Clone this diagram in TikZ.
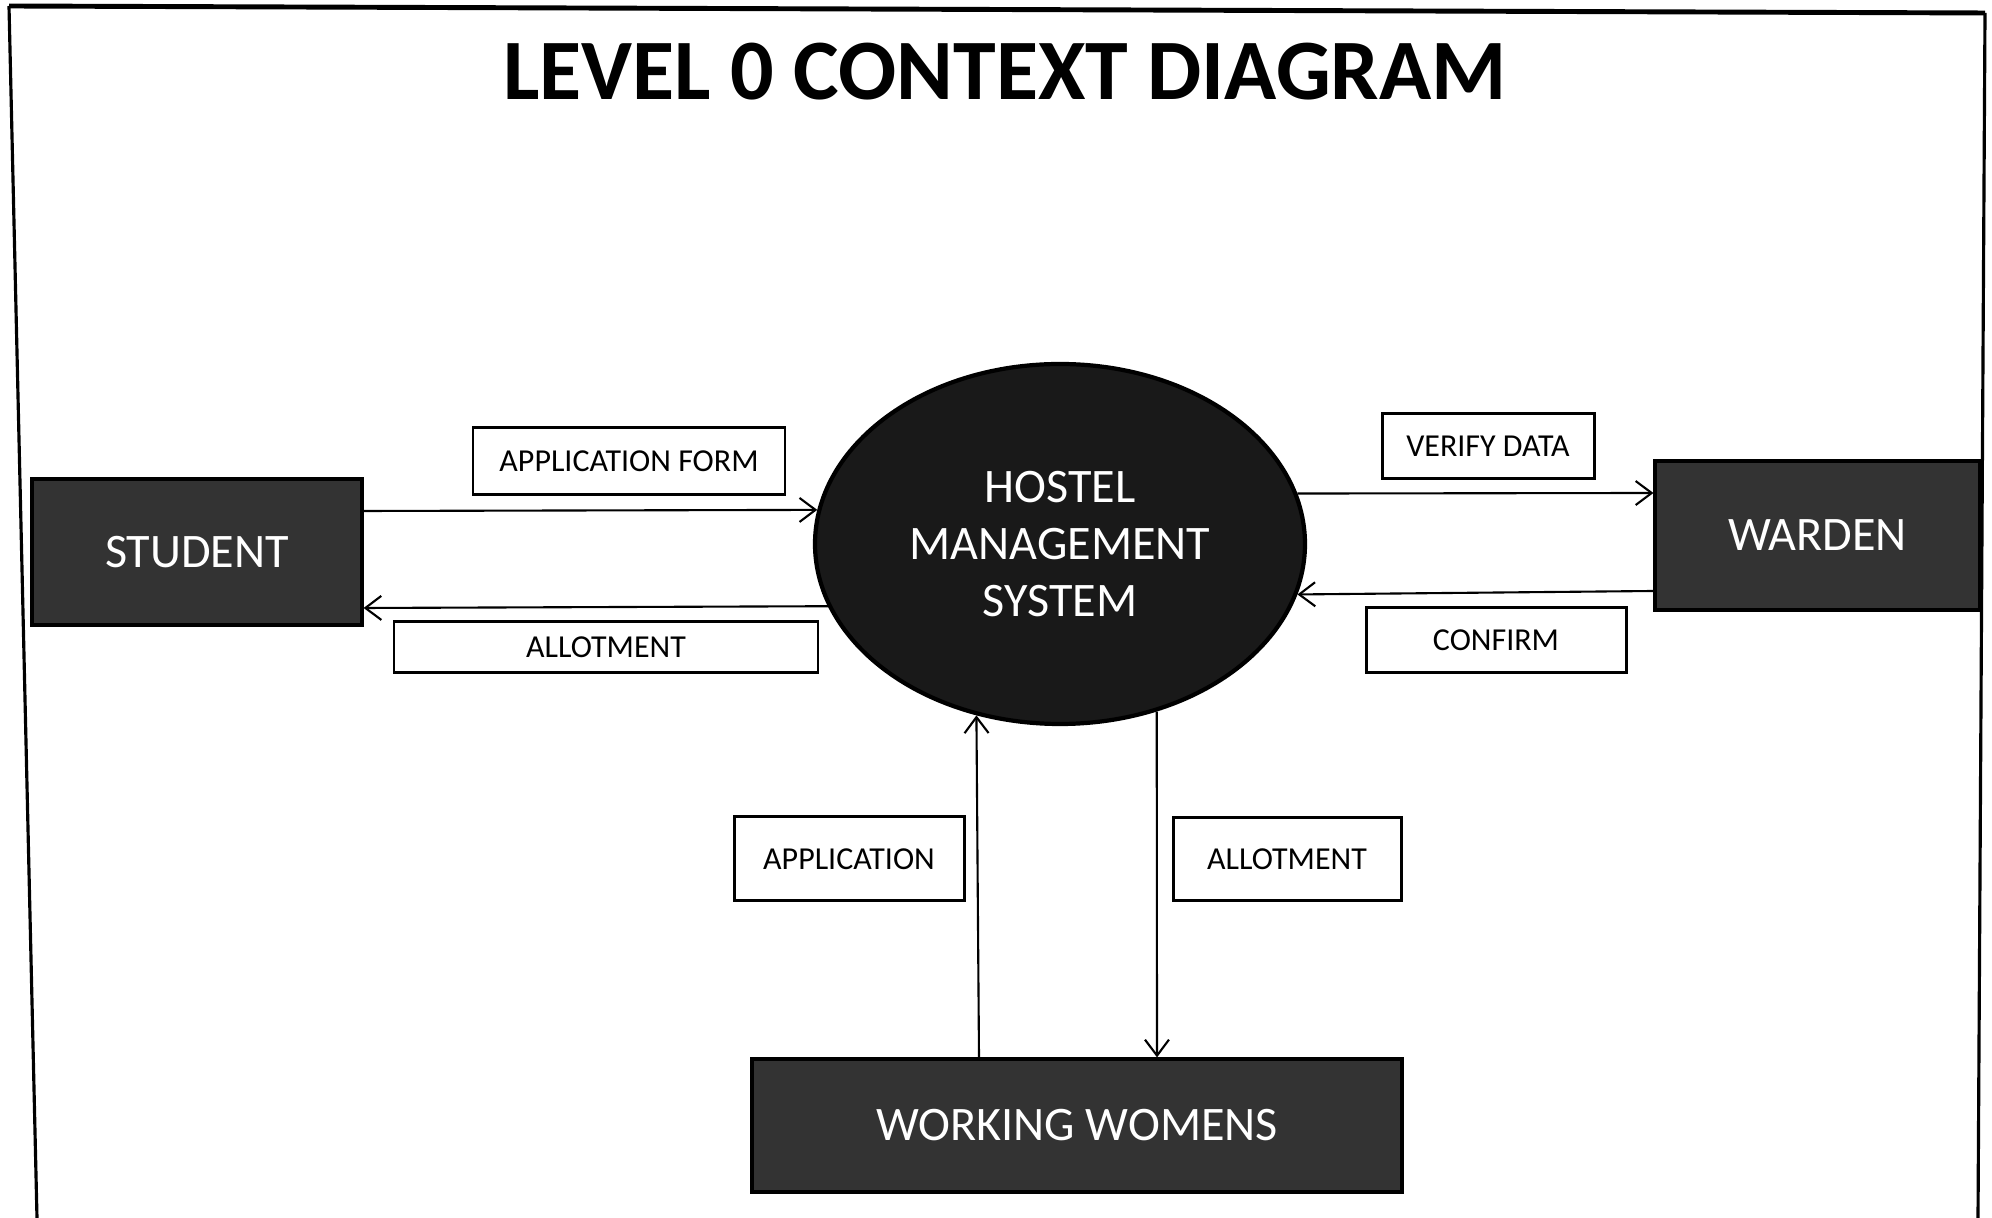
\documentclass[tikz,border=0pt]{standalone}
\usepackage{fontspec}
\setmainfont{Carlito}
\usetikzlibrary{shapes.geometric,arrows.meta}

\begin{document}
\begin{tikzpicture}[x=0.1mm, y=-0.1mm,
            entity/.style = {draw, line width=0.9pt, fill=black!80, text=white, inner sep=0pt,
                             font=\fontsize{13.7}{16}\selectfont},
            flowbox/.style = {draw, line width=0.85pt, fill=white, inner sep=0pt,
                              font=\fontsize{9.1}{11}\selectfont},
            flow/.style = {line width=0.6pt, -{Straight Barb[length=1.6mm, width=2.4mm]}}]
                \useasboundingbox (0,0) rectangle (1992,1218);
                % frame
                \draw[line width=1.4pt] (9,6) -- (1985,13);
                \draw[line width=0.9pt] (9,6) -- (37,1218);
                \draw[line width=0.9pt] (1985,13) -- (1978,1218);

                \node[font=\fontsize{24.5}{29}\selectfont\bfseries] (title) at (1005,72) {LEVEL 0 CONTEXT DIAGRAM};

                % process and external entities
                \node[ellipse, draw, line width=1.2pt, fill=black!90, text=white, minimum width=49mm, minimum height=36mm,
                      align=center, font=\fontsize{13.7}{16.2}\selectfont] (hms) at (1060,544) {HOSTEL\\MANAGEMENT\\SYSTEM};
                \node[entity, minimum width=33mm, minimum height=14.6mm] (student) at (197,552) {STUDENT};
                \node[entity, minimum width=32.5mm, minimum height=14.9mm] (warden) at (1817.5,535.5) {WARDEN};
                \node[entity, minimum width=65mm, minimum height=13.3mm] (women) at (1077,1125.5) {WORKING WOMENS};

                % data flow labels
                \node[flowbox, minimum width=31.2mm, minimum height=6.7mm] (appform) at (629,461.5) {APPLICATION FORM};
                \node[flowbox, minimum width=42.4mm, minimum height=5.1mm] (allotleft) at (606,647.5) {ALLOTMENT};
                \node[flowbox, minimum width=21.2mm, minimum height=6.5mm] (verify) at (1488,446.5) {VERIFY DATA};
                \node[flowbox, minimum width=26mm, minimum height=6.5mm] (confirm) at (1496,640.5) {CONFIRM};
                \node[flowbox, minimum width=23mm, minimum height=8.4mm] (app) at (849,859) {APPLICATION};
                \node[flowbox, minimum width=22.8mm, minimum height=8.3mm] (allotdown) at (1287,859.5) {ALLOTMENT};

                \draw[flow] ([yshift=4.1mm]student.east) -- (hms.172);
                \draw[flow] (hms.195.6) -- ([yshift=-5.6mm]student.east);
                \draw[flow] (hms.12.2) -- ([yshift=4.25mm]warden.west);
                \draw[flow] ([yshift=-5.55mm]warden.west) -- (hms.348.8);
                \draw[flow] ([xshift=-9.8mm]women.north) -- (hms.244.5);
                \draw[flow] (hms.300.4) -- ([xshift=8mm]women.north);
        \end{tikzpicture}
\end{document}
